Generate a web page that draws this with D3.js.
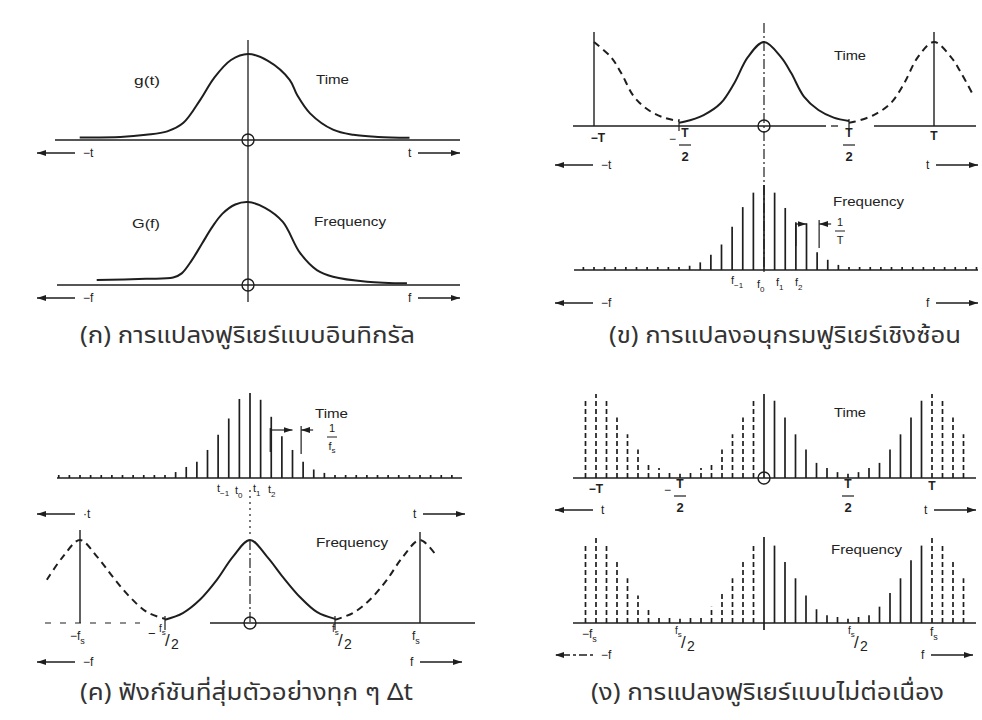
<!DOCTYPE html>
<html><head><meta charset="utf-8">
<script src="https://cdn.jsdelivr.net/npm/d3@7"></script>
<style>
body{margin:0;background:#fff}
text{font-family:"Liberation Sans",Arial,sans-serif;fill:#222}
.cap{font-family:"Noto Sans Thai","Noto Sans","DejaVu Sans",sans-serif;font-size:23px;fill:#333}
</style></head><body>
<svg id="chart" width="982" height="720"></svg>
<script>
// ---- data (u = position in units of T/2, v = height as fraction of peak)
var aTime=[[-1.98,0.03],[-1.5,0.035],[-1.2,0.06],[-0.95,0.1],[-0.76,0.2],[-0.56,0.47],[-0.4,0.72],[-0.2,0.93],[0,1],
  [0.235,0.92],[0.49,0.7],[0.58,0.52],[0.73,0.31],[1.0,0.12],[1.24,0.06],[1.53,0.035],[1.9,0.025]];
var aFreq=[[-1.78,0.06],[-1.2,0.075],[-0.88,0.09],[-0.78,0.14],[-0.66,0.3],[-0.54,0.5],[-0.42,0.7],[-0.3,0.86],[-0.15,0.97],[0,1],
  [0.2,0.93],[0.41,0.76],[0.61,0.39],[0.81,0.18],[1.0,0.1],[1.4,0.04],[1.87,0.02]];
var bPulse=[[-1,0.04],[-0.94,0.05],[-0.71,0.13],[-0.51,0.27],[-0.35,0.51],[-0.19,0.82],[0,1],[0.2,0.82],[0.32,0.63],[0.47,0.35],[0.64,0.19],[0.82,0.1],[1,0.06]];
var cPulse=[[-1,0.04],[-0.79,0.12],[-0.59,0.28],[-0.39,0.52],[-0.2,0.8],[0,1],[0.2,0.8],[0.39,0.55],[0.59,0.31],[0.79,0.13],[1,0.05]];

// spikes: index n, step = 1/8 unit
var step=0.125;
var bFreqN=[-7,-6,-5,-4,-3,-2,-1,0,1,2,3,4,5,6,7];
var bFreqH=[0.05,0.09,0.18,0.3,0.51,0.74,0.91,1,0.91,0.73,0.55,0.55,0.21,0.12,0.06];
var bFreqRange=[-17,20], bFreqFloor=0.035;
var cTimeN=[-7,-6,-5,-4,-3,-2,-1,0,1,2,3,4,5,6,7];
var cTimeH=[0.07,0.13,0.19,0.33,0.51,0.7,0.93,1,0.92,0.72,0.49,0.33,0.19,0.1,0.06];
var cTimeRange=[-18,19], cTimeFloor=0.035;
// DFT: 16 samples per period, k = -8..7
var dTimeH=[0.05,0.07,0.12,0.18,0.34,0.52,0.72,0.92,1,0.92,0.72,0.52,0.34,0.18,0.12,0.07];
var dFreqH=[0.05,0.07,0.09,0.19,0.35,0.52,0.73,0.9,1,0.9,0.71,0.52,0.32,0.16,0.09,0.07];
var dRange=[-17,19], dN=16;

var captions=["(ก)  การแปลงฟูริเยร์แบบอินทิกรัล","(ข)  การแปลงอนุกรมฟูริเยร์เชิงซ้อน","(ค)  ฟังก์ชันที่สุ่มตัวอย่างทุก ๆ Δt","(ง)  การแปลงฟูริเยร์แบบไม่ต่อเนื่อง"];
var captionWidths=[335,352,333,353];

var svg=d3.select("#chart");
var ink="#1e1e1e";
svg.append("defs").append("marker").attr("id","ah").attr("markerUnits","userSpaceOnUse")
  .attr("markerWidth",9).attr("markerHeight",6).attr("refX",9).attr("refY",3).attr("orient","auto")
  .append("path").attr("d","M0,0L9,3L0,6z").attr("fill",ink);

function xs(cx,unit){return d3.scaleLinear().domain([-1,1]).range([cx-unit,cx+unit]);}
function ys(axisY,peak){return d3.scaleLinear().domain([0,1]).range([axisY,axisY-peak]);}
function line(x1,y1,x2,y2,w,dash){
  var l=svg.append("line").attr("x1",x1).attr("y1",y1).attr("x2",x2).attr("y2",y2)
    .attr("stroke",ink).attr("stroke-width",w||1.3);
  if(dash)l.attr("stroke-dasharray",dash);
  return l;
}
function curve(pts,x,y,shift,dash){
  var gen=d3.line().x(function(d){return x(d[0]+shift);}).y(function(d){return y(d[1]);}).curve(d3.curveCatmullRom);
  var p=svg.append("path").attr("d",gen(pts)).attr("fill","none").attr("stroke",ink).attr("stroke-width",2);
  if(dash)p.attr("stroke-dasharray",dash);
}
function spikes(data,x,y){
  svg.append("g").selectAll("line").data(data).enter().append("line")
    .attr("x1",function(d){return x(d.n*step);}).attr("x2",function(d){return x(d.n*step);})
    .attr("y1",function(d){return y(0)+(d.below||0);}).attr("y2",function(d){return y(d.h);})
    .attr("stroke",ink).attr("stroke-width",1.7)
    .attr("stroke-dasharray",function(d){return d.dashed?"5,3":null;});
}
function txt(s,x,y,size,anchor){
  return svg.append("text").attr("x",x).attr("y",y).attr("font-size",size||11).attr("text-anchor",anchor||"start").text(s);
}
function word(s,x,y,w){
  return txt(s,x,y,13).attr("textLength",w).attr("lengthAdjust","spacingAndGlyphs");
}
function caption(i,x,y){
  svg.append("text").attr("class","cap").attr("x",x).attr("y",y)
    .attr("textLength",captionWidths[i]).attr("lengthAdjust","spacingAndGlyphs").text(captions[i]);
}
function circ(cx,cy){svg.append("circle").attr("cx",cx).attr("cy",cy).attr("r",6).attr("fill","none").attr("stroke",ink).attr("stroke-width",1.4);}
function arrows(y,xl,lbl,xr,rlbl,dash){
  line(xl+38,y,xl,y,1.3,dash).attr("marker-end","url(#ah)");
  txt(lbl,xl+46,y+4,12);
  txt(rlbl,xr,y+4,12);
  line(xr+10,y,xr+52,y,1.3).attr("marker-end","url(#ah)");
}
function frac(x,y,top,bot,minus){
  if(minus)txt("−",x-16,y+6,12);
  txt(top,x,y,12,"middle").attr("font-weight","bold");
  line(x-6,y+8,x+6,y+8,1.2);
  txt(bot,x,y+24,13,"middle").attr("font-weight","bold");
}
function sub(x,y,base,s,size){
  var t=txt(base,x,y,size||12);
  t.append("tspan").attr("font-size",(size||12)-3).attr("dy",4).text(s);
  return t;
}
function half(x,y,minus){
  if(minus)txt("−",x-11,y-6,13);
  var t=txt("f",x,y-12,10);
  t.append("tspan").attr("font-size",8).attr("dy",3).text("s");
  txt("/",x+6,y+2,17);
  txt("2",x+12,y+5,14);
}
function bracket(x,y,xa,xb,xc,yTop,lblTop,lblBot){
  // extension lines and arrows marking one spike spacing
  line(xa,yTop,xa,yTop+24,1.2);
  line(xa,yTop+2,xb,yTop+2,1.2).attr("marker-end","url(#ah)");
  line(xc,yTop-2,xc,yTop+26,1.2);
  line(xc+12,yTop+2,xc,yTop+2,1.2).attr("marker-end","url(#ah)");
  txt(lblTop,x,y,11,"middle");
  line(x-5,y+5,x+5,y+5,1);
  var t=txt(lblBot,x,y+18,11,"middle");
  return t;
}

// ---------- (ก)
var xA=xs(248,85), yAT=ys(140,86), yAF=ys(285,83);
line(55,140,460,140); line(57,285,460,285); line(248,40,248,302);
curve(aTime,xA,yAT,0); curve(aFreq,xA,yAF,0);
circ(248,140); circ(248,285);
word("g(t)",134,85,26); word("Time",316,84,33);
word("G(f)",132,228,28); word("Frequency",314,226,72);
arrows(153,37,"−t",408,"t"); arrows(298,37,"−f",408,"f");
caption(0,80,343);

// ---------- (ข)
var xB=xs(764,85), yBT=ys(126,84), yBF=ys(270,85);
line(573,126,826,126); line(831,126,838,126); line(874,126,976,126);
line(764,23,764,272,1.2,"10,3,2,3");
line(xB(-2),32,xB(-2),126,1.4); line(xB(2),32,xB(2),126,1.4);
line(xB(-1),119,xB(-1),131,1.2); line(xB(1),119,xB(1),131,1.2);
curve(bPulse,xB,yBT,0);
curve(bPulse.filter(function(d){return d[0]>=0;}),xB,yBT,-2,"7,5");
curve(bPulse.filter(function(d){return d[0]<=0.47;}),xB,yBT,2,"7,5");
circ(764,126);
line(574,270,978,270);
var bSp=d3.range(bFreqRange[0],bFreqRange[1]+1).map(function(n){
  var i=bFreqN.indexOf(n);return {n:n,h:i<0?bFreqFloor:bFreqH[i]};});
spikes(bSp,xB,yBF);
word("Time",834,60,32); word("Frequency",833,206,71);
txt("−T",598,142,12,"middle").attr("font-weight","bold");
frac(xB(-1)+6,137,"T","2",true); frac(xB(1),137,"T","2");
txt("T",xB(2),140,12,"middle").attr("font-weight","bold");
arrows(165,555,"−t",926,"t"); arrows(303,555,"−f",926,"f");
sub(731,284,"f","−1",11); sub(757,288,"f","0",11); sub(776,286,"f","1",11); sub(795,286,"f","2",11);
bracket(840,226,xB(3*step),xB(4*step),xB(5*step)+2,222,"1","T");
caption(1,609,343);

// ---------- (ค)
var xC=xs(250,85), yCT=ys(478,85), yCF=ys(623,83);
line(57,478,462,478);
var cSp=d3.range(cTimeRange[0],cTimeRange[1]+1).map(function(n){
  var i=cTimeN.indexOf(n);return {n:n,h:i<0?cTimeFloor:cTimeH[i]};});
spikes(cSp,xC,yCT);
line(250,490,250,537,1.2,"2,4"); line(250,540,250,623,1.2,"10,3,2,3");
line(45,623,140,623,1.2,"6,9"); line(210,623,475,623);
line(xC(-2),530,xC(-2),623,1.4); line(xC(2),532,xC(2),623,1.4);
line(xC(-1),616,xC(-1),630,1.2); line(xC(1),616,xC(1),630,1.2);
curve(cPulse,xC,yCF,0);
curve(cPulse.filter(function(d){return d[0]>=-0.39;}),xC,yCF,-2,"7,5");
curve(cPulse.filter(function(d){return d[0]<=0.2;}),xC,yCF,2,"7,5");
circ(250,623);
word("Time",315,418,33); word("Frequency",316,547,72);
sub(217,492,"t","−1",11); sub(235,494,"t","0",11); sub(253,492,"t","1",11); sub(268,493,"t","2",11);
bracket(332,432,xC(2*step)-1,xC(4*step),xC(5*step)-2,428,"1","f").append("tspan").attr("font-size",8).attr("dy",3).text("s");
arrows(514,37,"·t",413,"t"); arrows(662,37,"−f",410,"f");
sub(70,640,"−f","s",12); half(159,644,true); half(332,644); sub(412,640,"f","s",12);
caption(2,80,700);

// ---------- (ง)
var xD=xs(764,84), yDT=ys(478,84), yDF=ys(623,86);
function fold(n){return ((n%dN)+dN)%dN;}
function dft(h){
  return d3.range(dRange[0],dRange[1]+1).map(function(n){
    var k=fold(n+dN/2);
    return {n:n,h:h[k],dashed:(n<0||n>=dN)};
  });
}
line(573,478,976,478); line(573,623,976,623);
spikes(dft(dTimeH),xD,yDT);
var dF=dft(dFreqH); dF.forEach(function(d){if(d.n===0)d.below=7;});
spikes(dF,xD,yDF);
circ(764,478);
word("Time",834,417,32); word("Frequency",831,554,71);
txt("−T",xD(-2),493,12,"middle").attr("font-weight","bold");
frac(xD(-1),488,"T","2",true); frac(xD(1),488,"T","2");
txt("T",xD(2),490,12,"middle").attr("font-weight","bold");
arrows(510,555,"  t",924,"t");
arrows(655,555,"−f",921,"f","3,3,8,3");
sub(582,638,"−f","s",12); half(675,646); half(848,646); sub(930,636,"f","s",12);
caption(3,591,700);
</script>
</body></html>
